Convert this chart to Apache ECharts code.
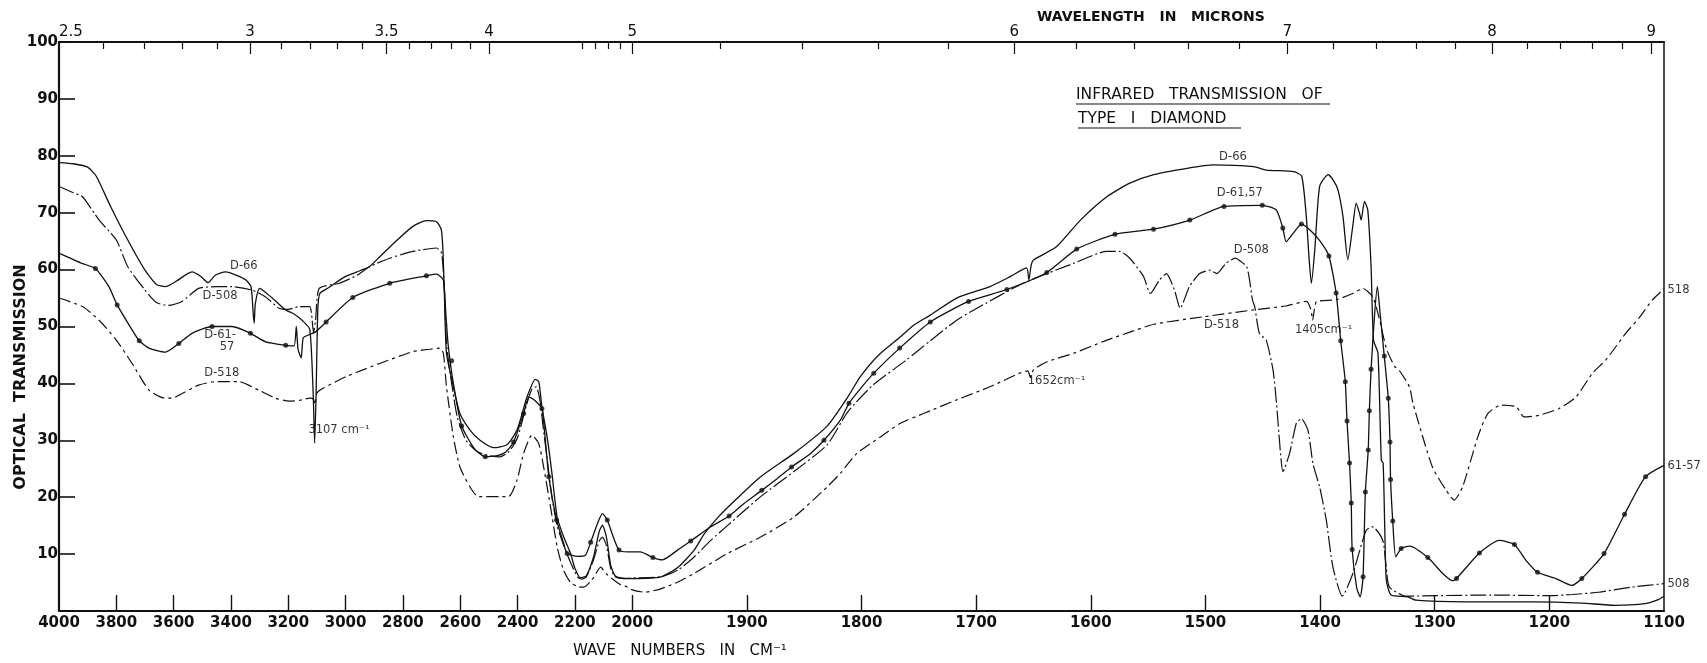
<!DOCTYPE html>
<html>
<head>
<meta charset="utf-8">
<script src="https://cdn.jsdelivr.net/npm/echarts@6/dist/echarts.min.js"></script>
<style>
  html, body { margin: 0; padding: 0; background: #fff; }
  #chart { width: 1707px; height: 663px; }
</style>
</head>
<body>
<div id="chart"></div>
<script>
// ---- axis ticks ----
const waveTicks = [3800, 3600, 3400, 3200, 3000, 2800, 2600, 2400, 2200, 2000, 1900, 1800, 1700, 1600, 1500, 1400, 1300, 1200];
const waveLabels = [4000, 3800, 3600, 3400, 3200, 3000, 2800, 2600, 2400, 2200, 2000, 1900, 1800, 1700, 1600, 1500, 1400, 1300, 1200, 1100];
const micronLabels = [2.5, 3, 3.5, 4, 5, 6, 7, 8, 9];
const micronMinor = [2.6, 2.7, 2.8, 2.9, 3.1, 3.2, 3.3, 3.4, 3.6, 3.7, 3.8, 3.9, 4.6, 4.7, 4.8, 4.9,
  5.2, 5.4, 5.6, 5.8, 6.2, 6.4, 6.6, 6.8, 7.2, 7.4, 7.6, 7.8, 8.2, 8.4, 8.6, 8.8];

// ---- spectra: [wave number cm-1, transmission %] ----
const d66 = [[4000,78.8],[3950,78.6],[3900,78.0],[3870,76.4],[3820,71.1],[3760,65.2],[3700,59.9],[3660,57.4],[3629,57.0],[3590,58.0],[3536,59.6],[3505,58.8],[3480,57.7],[3455,59.0],[3419,59.6],[3380,59.0],[3349,58.2],[3330,57.0],[3322,52],[3319,50.6],[3315,54],[3300,56.7],[3256,55.0],[3209,52.9],[3180,52.2],[3150,51],[3125,49.5],[3113,38],[3108,29.5],[3103,38],[3097,53],[3090,55.8],[3060,56.8],[3000,58.8],[2950,59.8],[2917,60.5],[2880,62.3],[2820,65.2],[2765,67.6],[2718,68.6],[2683,68.4],[2666,67.0],[2660,62.9],[2655,55],[2648,45.3],[2624,39.4],[2601,34.7],[2566,31.8],[2531,30.0],[2484,28.7],[2437,29.2],[2402,31.8],[2367,37.6],[2338,40.7],[2326,40.3],[2315,35.9],[2297,30.6],[2280,24.2],[2262,16.5],[2239,13.0],[2215,10.1],[2200,7.5],[2180,5.8],[2160,6.2],[2135,9.5],[2115,14],[2104,15.1],[2090,13],[2075,8],[2060,6.2],[2040,5.8],[2000,5.7],[1975,6.0],[1960,7.7],[1946,10.7],[1937,13.6],[1925,16.5],[1910,19.5],[1888,23.6],[1859,27.7],[1830,32.5],[1812,37.6],[1801,41.2],[1785,45],[1766,48.2],[1754,50.3],[1740,52],[1717,55],[1688,57],[1670,58.8],[1656,60.3],[1654,58.2],[1652,60.8],[1650,61.7],[1630,64.0],[1609,68.7],[1586,72.8],[1566,75.2],[1545,76.7],[1516,77.8],[1493,78.4],[1458,78.1],[1447,77.5],[1423,77.2],[1416,76.4],[1412,69.3],[1409.5,61.7],[1407.6,57.6],[1404.6,63.5],[1400.4,74.6],[1393,76.7],[1388.8,75.8],[1384.4,74.0],[1380,69.3],[1375.8,61.7],[1371.5,67.6],[1368.5,71.7],[1365.6,69.9],[1364.2,68.7],[1361.3,72.0],[1358.4,70.5],[1355.5,60.5],[1353.4,47.6],[1349.5,45.3],[1346.6,26.5],[1345,26],[1343.6,14.8],[1342.2,5.4],[1338,2.8],[1323.5,2.5],[1316.5,1.9],[1273,1.6],[1215,1.6],[1172,1.4],[1143,1.0],[1116.5,1.3],[1105,2.0],[1100,2.6]];

const d508 = [[4000,74.6],[3950,73.5],[3918,72.8],[3860,68.7],[3800,65.2],[3760,60.5],[3700,56.4],[3660,54.2],[3618,53.7],[3571,54.4],[3513,56.7],[3450,57.0],[3396,57.0],[3326,56.4],[3279,55.2],[3232,53.2],[3200,53.0],[3162,53.5],[3125,53.5],[3112,49],[3105,51],[3092,56.7],[3022,57.6],[2960,59],[2917,60.5],[2846,62.0],[2765,63.2],[2683,63.8],[2665,62.9],[2655,56],[2648,47],[2630,40],[2610,34],[2580,30],[2540,28],[2500,27.3],[2461,27.1],[2430,28],[2400,30.5],[2370,36],[2350,39],[2335,39.4],[2322,37],[2310,32],[2295,26],[2280,20],[2262,15],[2239,11.5],[2215,8.5],[2190,5.9],[2175,5.6],[2160,6],[2135,9],[2115,12.3],[2104,13],[2090,11.5],[2075,7.5],[2060,6.0],[2030,5.7],[2000,5.8],[1975,6.0],[1960,7.2],[1946,9.5],[1931,12.5],[1917,15],[1888,20.1],[1859,24.5],[1830,29.2],[1812,35],[1790,39.7],[1761,44.1],[1740,47.5],[1717,51.1],[1702,52.9],[1659,57.6],[1615,61.1],[1586,63.2],[1575,63.2],[1566,62.0],[1554,58.8],[1548,55.8],[1540,58.2],[1534,59.3],[1527,56.4],[1522,53.2],[1514,57],[1505,59.3],[1496,59.9],[1490,59.3],[1482,61.1],[1474,62.0],[1467,61.1],[1464,60.5],[1462,58.8],[1459,54.7],[1457,53.5],[1453,48.8],[1447,47.6],[1441,42.3],[1438,36.5],[1435,28.9],[1432.4,24.5],[1426.6,27.7],[1420.7,33],[1416.3,33.8],[1410.6,31.8],[1406.2,25.9],[1400.4,21.8],[1394.6,16],[1388.8,7.7],[1380.6,2.6],[1371.4,6.6],[1359.8,14.2],[1354,14.8],[1345.3,12.4],[1342.3,7.7],[1339.5,4.2],[1325,2.6],[1300,2.7],[1250,2.8],[1200,2.7],[1180,2.9],[1157,3.3],[1128,4.2],[1100,4.8]];

const d6157 = [[4000,62.9],[3920,61.1],[3873,60.2],[3826,57.0],[3797,53.8],[3745,49.4],[3720,47.5],[3686,46.2],[3629,45.5],[3582,47.0],[3536,48.8],[3466,50.0],[3396,50.0],[3332,48.8],[3279,47.3],[3209,46.7],[3180,46.6],[3172,50],[3166,46],[3155,44.5],[3148,48],[3130,48.5],[3104,49.1],[3068,50.8],[2975,55.1],[2846,57.6],[2718,58.9],[2683,59.2],[2659,58.2],[2650,52],[2642,46.7],[2624,40.0],[2595,32.5],[2550,28.5],[2513,27.1],[2470,27.3],[2440,28],[2414,29.7],[2379,34.7],[2361,37.6],[2345,37.2],[2330,36.5],[2315,35.6],[2303,30.0],[2291,23.6],[2264,16.0],[2240,12],[2227,10.1],[2190,9.6],[2163,9.8],[2145,12.1],[2120,15.5],[2104,17.1],[2087,16.0],[2066,13],[2046,10.7],[2016,10.4],[1993,10.4],[1982,9.4],[1973.5,9.0],[1960.5,10.7],[1949,12.3],[1931.5,14.8],[1915.5,16.7],[1902.5,18.9],[1887,21.2],[1873.4,23.3],[1861,25.3],[1844.4,27.7],[1832.8,30.0],[1818.3,33.6],[1811,36.5],[1800,39.3],[1789.3,41.8],[1766.7,46.2],[1740,50.8],[1706.6,54.4],[1673.2,56.5],[1638.4,59.5],[1612.3,63.6],[1578.9,66.2],[1545.3,67.1],[1513.6,68.7],[1483.8,71.1],[1450.4,71.3],[1438.3,70.5],[1432.5,67.3],[1429.6,64.9],[1423.4,66.4],[1416.3,68.0],[1409,67],[1400,65],[1392.3,62.4],[1386,55.9],[1382,47.5],[1378,40.3],[1376.5,33.4],[1374.3,26.0],[1372.8,19.0],[1372,10.8],[1368,4],[1365,2.5],[1362.5,6],[1360.5,20.9],[1358,28.3],[1357,35.2],[1355.5,42.5],[1352.5,52],[1350,57],[1347.5,52],[1344,44.8],[1340.5,37.4],[1339,29.7],[1338.5,23.1],[1336.6,15.8],[1334,9.5],[1329.3,11.0],[1322,11.4],[1306,9.4],[1293,6.6],[1284.3,5.3],[1281,5.7],[1261,10.2],[1243.7,12.4],[1230.5,11.7],[1220.4,8.9],[1210.3,6.8],[1194.3,5.7],[1180.4,4.5],[1171.7,5.7],[1152.3,10.1],[1134.4,17.0],[1116.1,23.6],[1100,25.6]];

// the plotted dots along D-61,57
const d6157Dots = [[3873,60.2],[3797,53.8],[3720,47.5],[3582,47.0],[3466,50.0],[3332,48.8],[3209,46.7],[3068,50.8],[2975,55.1],[2846,57.6],[2718,58.9],[2630,44],[2595,32.5],[2513,27.1],[2414,29.7],[2379,34.7],[2315,35.6],[2291,23.6],[2264,16.0],[2227,10.1],[2145,12.1],[2087,16.0],[2046,10.7],[1982,9.4],[1949,12.3],[1915.5,16.7],[1887,21.2],[1861,25.3],[1832.8,30.0],[1811,36.5],[1789.3,41.8],[1766.7,46.2],[1740,50.8],[1706.6,54.4],[1673.2,56.5],[1638.4,59.5],[1612.3,63.6],[1578.9,66.2],[1545.3,67.1],[1513.6,68.7],[1483.8,71.1],[1450.4,71.3],[1432.5,67.3],[1416.3,68.0],[1392.3,62.4],[1386,55.9],[1382,47.5],[1378,40.3],[1376.5,33.4],[1374.3,26.0],[1372.8,19.0],[1372,10.8],[1362.5,6],[1360.5,20.9],[1358,28.3],[1357,35.2],[1355.5,42.5],[1344,44.8],[1340.5,37.4],[1339,29.7],[1338.5,23.1],[1336.6,15.8],[1329.3,11.0],[1306,9.4],[1281,5.7],[1261,10.2],[1230.5,11.7],[1210.3,6.8],[1171.7,5.7],[1152.3,10.1],[1134.4,17.0],[1116.1,23.6]];

const d518 = [[4000,55.0],[3918,53.5],[3860,51.1],[3800,47.6],[3745,43.5],[3686,38.8],[3640,37.5],[3606,37.4],[3560,38.5],[3513,39.7],[3455,40.3],[3373,40.3],[3303,38.8],[3245,37.4],[3197,36.9],[3162,37.0],[3125,37.4],[3112,37.2],[3107,36.3],[3100,38.3],[3080,39.1],[2998,41.2],[2928,42.6],[2881,43.5],[2765,45.6],[2706,46.0],[2671,46.2],[2659,45.3],[2648,39.4],[2624,30.6],[2601,25.3],[2566,21.8],[2537,20.1],[2432,20.1],[2402,23.0],[2379,27.7],[2350,30.9],[2326,29.4],[2309,25.3],[2285,18.3],[2262,11.3],[2240,7.2],[2215,5.0],[2190,4.3],[2169,4.2],[2140,5.5],[2110,7.7],[2090,6.5],[2063,5.4],[2040,4.6],[2016,4.2],[2000,3.7],[1989,3.3],[1975,3.9],[1960,5.1],[1946,6.6],[1917,10.1],[1888,13.0],[1859,16.5],[1830,21.8],[1818.5,24.2],[1804,27.7],[1783.5,30.6],[1766,33.0],[1746,34.7],[1717,37.1],[1688,39.4],[1662,41.8],[1655,42.2],[1652.5,41.0],[1650,42.4],[1638,43.8],[1615,45.3],[1586,47.6],[1566,49.0],[1545,50.4],[1502,51.7],[1458.5,52.9],[1430,53.6],[1412,54.4],[1408,53],[1406.5,51.1],[1405,53],[1403,54.4],[1386,54.7],[1371.5,55.8],[1362.8,56.7],[1354,55.2],[1348,51.1],[1342,46],[1335,43],[1331,42.3],[1322,39.4],[1319,36.5],[1302,25.3],[1290,21.2],[1283,19.5],[1275.7,21.8],[1262.4,30.6],[1253.7,34.7],[1242,36.2],[1229,35.9],[1222,34.1],[1209,34.4],[1191.4,35.6],[1176.8,37.6],[1162.4,41.8],[1150.8,44.1],[1133.4,48.8],[1121.8,51.5],[1110,54.7],[1100,56.6]];

// curve annotations: [wave number, transmission, text, align]
const notes = [
  [3355, 60.6, 'D-66', 'center'],
  [3438, 55.3, 'D-508', 'center'],
  [3438, 48.5, 'D-61-', 'center'],
  [3414, 46.4, '57', 'center'],
  [3432, 41.8, 'D-518', 'center'],
  [3142, 31.8, '3107 cm⁻¹', 'left'],
  [1658, 40.4, '1652cm⁻¹', 'left'],
  [1476, 79.8, 'D-66', 'center'],
  [1470, 73.5, 'D-61,57', 'center'],
  [1460, 63.4, 'D-508', 'center'],
  [1486, 50.3, 'D-518', 'center'],
  [1425, 49.4, '1405cm⁻¹', 'left'],
  [1100, 56.4, '518', 'left'],
  [1100, 25.5, '61-57', 'left'],
  [1100, 4.8, '508', 'left']
];

// chart paper: 4000-2000 cm-1 at quarter scale of 2000-1100 cm-1
function toU(w) { return w >= 2000 ? (4000 - w) / 4 : 500 + (2000 - w); }
function fromU(u) { return u <= 500 ? 4000 - 4 * u : 2000 - (u - 500); }
const pts = (arr) => arr.map(([w, t]) => [toU(w), t]);

const chart = echarts.init(document.getElementById('chart'));
const ink = '#111';
const font = 'DejaVu Sans';

// extra top axes that only carry tick marks
function topTicks(values, length) {
  return {
    type: 'value', position: 'top', min: 0, max: 1400,
    axisLine: { show: false, onZero: false },
    axisTick: { inside: true, length: length, lineStyle: { color: ink, width: 1.2 }, customValues: values.map(m => toU(10000 / m)) },
    axisLabel: { show: false },
    splitLine: { show: false }
  };
}

const option = {
  backgroundColor: '#fff',
  animation: false,
  grid: { left: 59, right: 43, top: 42, bottom: 52 },
  xAxis: [
    {
      type: 'value', position: 'bottom', min: 0, max: 1400,
      axisLine: { onZero: false, lineStyle: { color: ink, width: 2 } },
      axisTick: { inside: true, length: 16, lineStyle: { color: ink, width: 1.4 }, customValues: waveTicks.map(toU) },
      axisLabel: {
        customValues: waveLabels.map(toU), margin: 5,
        color: ink, fontFamily: font, fontWeight: 'bold', fontSize: 15,
        formatter: (v) => String(Math.round(fromU(v)))
      },
      splitLine: { show: false }
    },
    {
      type: 'value', position: 'top', min: 0, max: 1400,
      axisLine: { onZero: false, lineStyle: { color: ink, width: 2 } },
      axisTick: { show: false },
      axisLabel: {
        customValues: micronLabels.map(m => toU(10000 / m)), margin: 2, alignMinLabel: 'left',
        color: ink, fontFamily: font, fontSize: 15,
        formatter: (v) => String(parseFloat((10000 / fromU(v)).toFixed(1)))
      },
      splitLine: { show: false }
    },
    topTicks(micronLabels.slice(1), 12),
    topTicks(micronMinor, 7)
  ],
  yAxis: [
    {
      type: 'value', min: 0, max: 100, interval: 10,
      axisLine: { show: true, onZero: false, lineStyle: { color: ink, width: 2.2 } },
      axisTick: { inside: true, length: 16, lineStyle: { color: ink, width: 1.6 } },
      axisLabel: {
        margin: 1, color: ink, fontFamily: font, fontWeight: 'bold', fontSize: 15,
        formatter: (v) => (v === 0 ? '' : String(v))
      },
      splitLine: { show: false }
    },
    {
      type: 'value', position: 'right', min: 0, max: 100,
      axisLine: { show: true, onZero: false, lineStyle: { color: ink, width: 1.5 } },
      axisTick: { show: false }, axisLabel: { show: false }, splitLine: { show: false }
    }
  ],
  series: [
    {
      name: 'D-66', type: 'line', data: pts(d66), showSymbol: false, smooth: 0.2,
      lineStyle: { color: ink, width: 1.3 }
    },
    {
      name: 'D-508', type: 'line', data: pts(d508), showSymbol: false, smooth: 0.2,
      lineStyle: { color: ink, width: 1.2, type: [16, 3, 2, 3] }
    },
    {
      name: 'D-61,57', type: 'line', data: pts(d6157), showSymbol: false, smooth: 0.2,
      lineStyle: { color: ink, width: 1.3 }
    },
    {
      name: 'D-61,57 dots', type: 'scatter', data: pts(d6157Dots), symbolSize: 5,
      itemStyle: { color: ink }
    },
    {
      name: 'D-518', type: 'line', data: pts(d518), showSymbol: false, smooth: 0.2,
      lineStyle: { color: ink, width: 1.2, type: [12, 4, 3, 4] }
    },
    {
      name: 'notes', type: 'scatter', clip: false, symbolSize: 1, silent: true,
      itemStyle: { color: 'transparent' },
      data: notes.map(([w, t, text, align]) => ({
        value: [toU(w), t],
        label: { show: true, position: align === 'left' ? 'right' : 'inside', distance: 3, formatter: text }
      })),
      label: { color: '#000', fontFamily: font, fontSize: 11.5 }
    }
  ],
  graphic: [
    { type: 'text', left: 1037, top: 10, style: { text: 'WAVELENGTH   IN   MICRONS', fontFamily: font, fontWeight: 'bold', fontSize: 14, fill: ink } },
    { type: 'text', left: 1076, top: 87, style: { text: 'INFRARED   TRANSMISSION   OF', fontFamily: font, fontSize: 15.5, fill: ink } },
    { type: 'line', shape: { x1: 1076, y1: 104, x2: 1330, y2: 104 }, style: { stroke: ink, lineWidth: 1.2 } },
    { type: 'text', left: 1078, top: 111, style: { text: 'TYPE   I   DIAMOND', fontFamily: font, fontSize: 15.5, fill: ink } },
    { type: 'line', shape: { x1: 1078, y1: 128, x2: 1241, y2: 128 }, style: { stroke: ink, lineWidth: 1.2 } },
    { type: 'text', left: 573, top: 644, style: { text: 'WAVE   NUMBERS   IN   CM⁻¹', fontFamily: font, fontSize: 15, fill: ink } },
    {
      type: 'text', x: 13, y: 377, rotation: Math.PI / 2,
      style: { text: 'OPTICAL  TRANSMISSION', fontFamily: font, fontWeight: 'bold', fontSize: 16, fill: ink, align: 'center', verticalAlign: 'top' }
    }
  ]
};

chart.setOption(option);
</script>
</body>
</html>
